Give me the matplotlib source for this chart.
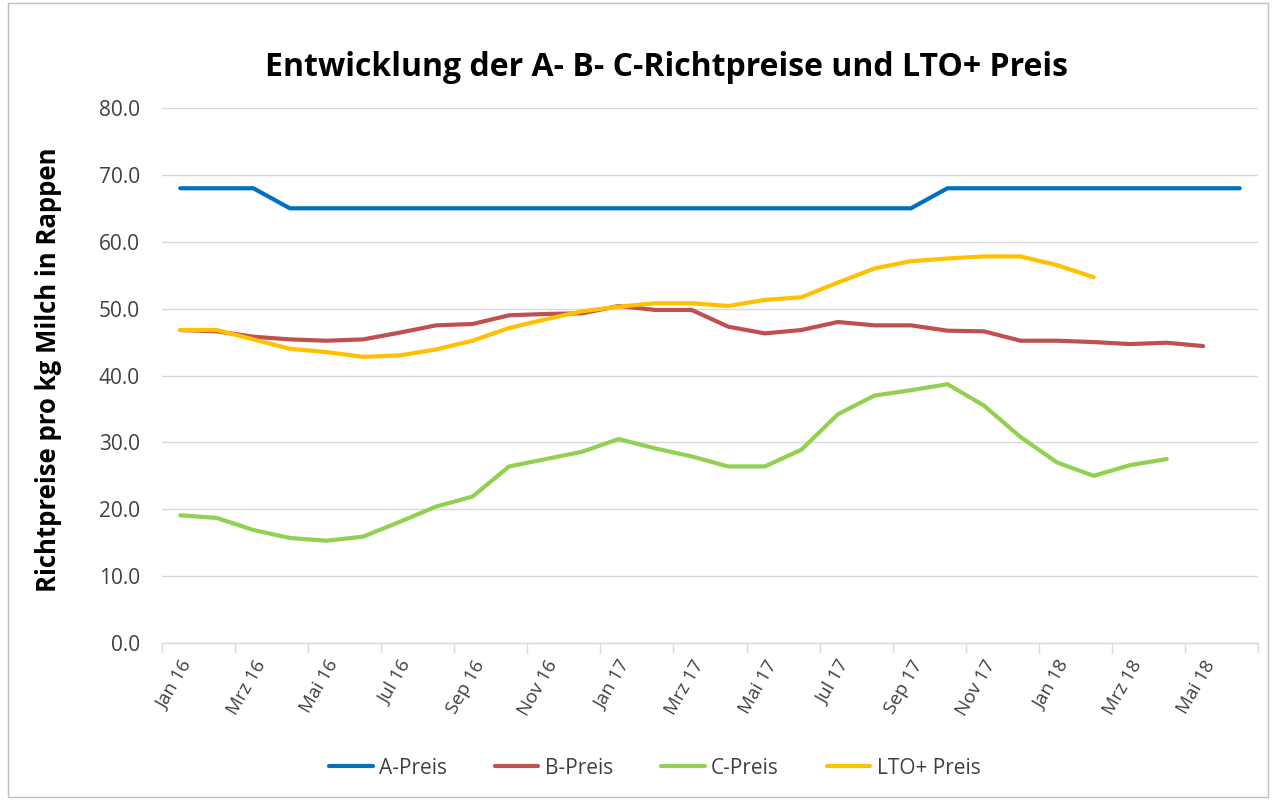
import numpy as np
import matplotlib
matplotlib.use("Agg")
import matplotlib.pyplot as plt
from matplotlib.patches import Rectangle

months = ["Jan 16", "Feb 16", "Mrz 16", "Apr 16", "Mai 16", "Jun 16", "Jul 16", "Aug 16",
          "Sep 16", "Okt 16", "Nov 16", "Dez 16", "Jan 17", "Feb 17", "Mrz 17", "Apr 17",
          "Mai 17", "Jun 17", "Jul 17", "Aug 17", "Sep 17", "Okt 17", "Nov 17", "Dez 17",
          "Jan 18", "Feb 18", "Mrz 18", "Apr 18", "Mai 18", "Jun 18"]

a_preis = [68, 68, 68, 65, 65, 65, 65, 65, 65, 65, 65, 65, 65, 65, 65, 65, 65, 65, 65, 65,
           65, 68, 68, 68, 68, 68, 68, 68, 68, 68]
b_preis = [46.8, 46.6, 45.8, 45.4, 45.2, 45.4, 46.4, 47.5, 47.7, 49.0, 49.2, 49.3, 50.4, 49.8,
           49.8, 47.3, 46.3, 46.8, 48.0, 47.5, 47.5, 46.7, 46.6, 45.2, 45.2, 45.0, 44.7, 44.9,
           44.4, np.nan]
c_preis = [19.1, 18.7, 16.9, 15.7, 15.3, 15.9, 18.1, 20.4, 21.9, 26.4, 27.5, 28.6, 30.5, 29.1,
           27.9, 26.4, 26.4, 28.9, 34.2, 37.0, 37.8, 38.7, 35.5, 30.8, 27.0, 25.0, 26.6, 27.5,
           np.nan, np.nan]
lto_preis = [46.8, 46.8, 45.4, 44.0, 43.5, 42.8, 43.0, 43.9, 45.2, 47.1, 48.4, 49.6, 50.3, 50.8,
             50.8, 50.4, 51.3, 51.7, 53.9, 56.0, 57.1, 57.5, 57.8, 57.8, 56.5, 54.7, np.nan,
             np.nan, np.nan, np.nan]

series = [("A-Preis", a_preis, "#0070C0"),
          ("B-Preis", b_preis, "#C0504D"),
          ("C-Preis", c_preis, "#92D050"),
          ("LTO+ Preis", lto_preis, "#FFC000")]

plt.rcParams['font.family'] = ['Open Sans', 'DejaVu Sans']

fig = plt.figure(figsize=(12.76, 8.0), dpi=100)
fig.patch.set_facecolor("white")
fig.patches.append(Rectangle((0.006, 0.004), 0.988, 0.992, transform=fig.transFigure,
                             fill=False, edgecolor="#BFBFBF", linewidth=1.0))

ax = fig.add_axes([162/1276, 1 - 643/800, (1258 - 162)/1276, (643 - 108)/800])
x = np.arange(len(months))
for name, vals, col in series:
    ax.plot(x, vals, color=col, linewidth=3.0, solid_capstyle="round",
            solid_joinstyle="round", label=name)

ax.set_xlim(-0.5, len(months) - 0.5)
ax.set_ylim(0, 80)
ax.set_yticks(np.arange(0, 81, 10))
ax.set_yticklabels([f"{v:.1f}" for v in np.arange(0, 81, 10)], fontsize=15, color="#404040")
ax.yaxis.grid(True, color="#D9D9D9", linewidth=1.0)
ax.set_axisbelow(True)
ax.tick_params(axis="y", length=0, pad=16)

ax.set_xticks(np.arange(-0.5, len(months), 2))
ax.set_xticklabels([])
ax.tick_params(axis="x", which="major", length=7, color="#D9D9D9", width=1.0)
ax.set_xticks(np.arange(0, len(months), 2), minor=True)
ax.set_xticklabels(months[::2], minor=True, rotation=60, ha="right", va="top",
                   rotation_mode="anchor", fontsize=13.5, color="#404040")
ax.tick_params(axis="x", which="minor", length=0, pad=10)

for s in ["top", "right", "left"]:
    ax.spines[s].set_visible(False)
ax.spines["bottom"].set_color("#D9D9D9")
ax.spines["bottom"].set_linewidth(1.0)

ax.set_ylabel("Richtpreise pro kg Milch in Rappen", fontsize=18.5, fontweight="bold")
ax.yaxis.set_label_coords(-0.091, 0.51)

fig.text(0.522, 1 - 67/800, "Entwicklung der A- B- C-Richtpreise und LTO+ Preis",
         ha="center", va="center", fontsize=23, fontweight="bold")

leg = fig.legend(loc="center", bbox_to_anchor=(0.513, 1 - 768/800), ncol=4, frameon=False,
                 fontsize=15, handlelength=2.1, columnspacing=2.3, handletextpad=0.3)
for t in leg.get_texts():
    t.set_color("#404040")

fig.savefig("out.png", dpi=100, facecolor="white")
